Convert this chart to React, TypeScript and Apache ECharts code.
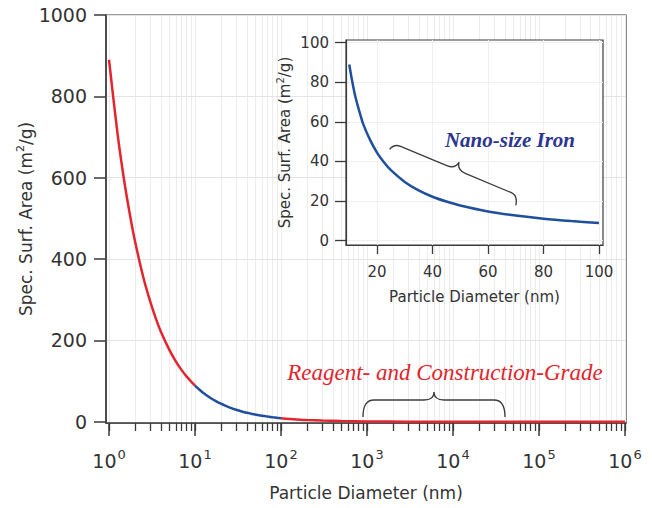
import React, { useEffect, useRef } from "react";
import * as echarts from "echarts";

// Particle diameter (nm) and specific surface area (m^2/g)
const diameterNm = [
  1, 1.25, 1.5, 1.75, 2, 2.5, 3, 3.5, 4, 5, 6, 7, 8, 9, 10, 11, 12, 13, 14, 15,
  17.5, 20, 22.5, 25, 30, 35, 40, 45, 50, 60, 70, 80, 90, 100, 150, 200, 300,
  500, 1000, 3000, 10000, 100000, 1000000,
];
const surfaceArea = [
  890, 712, 593, 509, 445, 356, 297, 254, 222, 178, 148, 127, 111, 99, 89, 81,
  74, 68.5, 63.6, 59, 50.9, 44.5, 39.6, 35.6, 29.7, 25.4, 22.2, 19.8, 17.8,
  14.8, 12.7, 11.1, 9.9, 8.9, 5.9, 4.5, 3.0, 1.8, 0.9, 0.3, 0.09, 0.01, 0.001,
];

// Tick labels
const mainXDecades = [0, 1, 2, 3, 4, 5, 6];
const mainYTicks = [0, 200, 400, 600, 800, 1000];
const insetXTicks = [20, 40, 60, 80, 100];
const insetYTicks = [0, 20, 40, 60, 80, 100];

// Annotations
const reagentLabel = "Reagent- and Construction-Grade";
const nanoLabel = "Nano-size Iron";

const RED = "#e3262d";
const BLUE = "#1f4f9e";
const AXIS = "#3a3a3a";
const TXT = "#333333";
const SANS = "'DejaVu Sans', Verdana, sans-serif";
const SERIF = "'Liberation Serif', 'Times New Roman', serif";

let shapesRegistered = false;
function registerShapes() {
  if (shapesRegistered) return;
  shapesRegistered = true;
  echarts.graphic.registerShape(
    "braceMain",
    echarts.graphic.extendPath(
      "M-71 17 Q-71 0 -60 0 L-10 0 Q0 0 0 -8 Q0 0 10 0 L60 0 Q71 0 71 17",
      {}
    )
  );
  echarts.graphic.registerShape(
    "braceInset",
    echarts.graphic.extendPath(
      "M-69 7 Q-67 0 -60 0 L-10 0 Q-1 0 0 -8 Q1 0 10 0 L60 0 Q67 0 69 10",
      {}
    )
  );
}

export default function App() {
  const ref = useRef<HTMLDivElement | null>(null);

  useEffect(() => {
    if (!ref.current) return;
    registerShapes();
    const chart = echarts.init(ref.current, undefined, { renderer: "svg" });

    const pts = diameterNm.map((d, i) => ({ d, v: surfaceArea[i] }));
    const toLog = (p: { d: number; v: number }) => [Math.log10(p.d), p.v];
    const red1 = pts.filter((p) => p.d <= 10).map(toLog);
    const blue = pts.filter((p) => p.d >= 10 && p.d <= 100).map(toLog);
    const red2 = pts.filter((p) => p.d >= 100).map(toLog);
    const inset = pts
      .filter((p) => p.d >= 10 && p.d <= 100)
      .map((p) => [p.d, p.v]);

    const minorLogs: number[] = [];
    for (let e = 0; e < 6; e++) {
      for (let k = 1; k <= 9; k++) minorLogs.push(Math.log10(k * Math.pow(10, e)));
    }
    minorLogs.push(6);

    const supRich = {
      b: { fontSize: 19, fontFamily: SANS, color: TXT },
      s: { fontSize: 13, fontFamily: SANS, color: TXT, padding: [0, 0, 12, 1] },
    };
    const plain = (v: number) => String(Math.round(v));

    const lineSeries = (data: number[][], color: string, xi: number, yi: number, z: number) => ({
      type: "line",
      xAxisIndex: xi,
      yAxisIndex: yi,
      data,
      showSymbol: false,
      smooth: 0.3,
      lineStyle: { color, width: 2.5 },
      itemStyle: { color },
      z,
    });

    const option: any = {
      animation: false,
      grid: [
        {
          left: 106,
          right: 26,
          top: 15,
          bottom: 85,
          outerBoundsMode: "none",
          containLabel: false,
          show: true,
          borderColor: AXIS,
          borderWidth: 1.2,
          backgroundColor: "transparent",
          z: 0,
        },
        {
          left: 346,
          right: 49,
          top: 40,
          bottom: 263,
          outerBoundsMode: "none",
          containLabel: false,
          show: true,
          borderColor: AXIS,
          borderWidth: 1.2,
          backgroundColor: "#ffffff",
          z: 5,
        },
      ],
      xAxis: [
        {
          type: "value",
          gridIndex: 0,
          position: "bottom",
          min: -0.035,
          max: 6.012,
          z: 2,
          axisLine: { show: true, onZero: false, lineStyle: { color: AXIS, width: 1.5 } },
          axisTick: {
            show: true,
            customValues: mainXDecades,
            length: 13,
            lineStyle: { color: AXIS, width: 1.5 },
          },
          axisLabel: {
            customValues: mainXDecades,
            margin: 25,
            formatter: (v: number) => `{b|10}{s|${Math.round(v)}}`,
            rich: supRich,
          },
          splitLine: { show: false },
          name: "Particle Diameter (nm)",
          nameLocation: "middle",
          nameGap: 61,
          nameMoveOverlap: false,
          nameTextStyle: { fontSize: 17, fontFamily: SANS, color: TXT },
        },
        {
          type: "value",
          gridIndex: 0,
          position: "bottom",
          min: -0.035,
          max: 6.012,
          z: 1,
          axisLine: { show: false, onZero: false },
          axisTick: {
            show: true,
            customValues: minorLogs,
            length: 8,
            lineStyle: { color: AXIS, width: 1.3 },
          },
          axisLabel: { show: false },
          splitLine: { show: true, lineStyle: { color: "#ececec", width: 1 } },
        },
        {
          type: "value",
          gridIndex: 1,
          position: "bottom",
          min: 8.83,
          max: 101.44,
          z: 6,
          axisLine: { show: true, onZero: false, lineStyle: { color: AXIS, width: 1.2 } },
          axisTick: {
            show: true,
            customValues: insetXTicks,
            length: 9,
            lineStyle: { color: AXIS, width: 1.3 },
          },
          axisLabel: {
            customValues: insetXTicks,
            margin: 19,
            fontSize: 15,
            fontFamily: SANS,
            color: TXT,
            formatter: plain,
          },
          splitLine: { show: true, lineStyle: { color: "#efefef" } },
          name: "Particle Diameter (nm)",
          nameLocation: "middle",
          nameGap: 44,
          nameMoveOverlap: false,
          nameTextStyle: { fontSize: 15, fontFamily: SANS, color: TXT },
        },
      ],
      yAxis: [
        {
          type: "value",
          gridIndex: 0,
          min: -3,
          max: 1000,
          z: 2,
          axisLine: { show: true, onZero: false, lineStyle: { color: AXIS, width: 1.5 } },
          axisTick: {
            show: true,
            customValues: mainYTicks,
            length: 12,
            lineStyle: { color: AXIS, width: 1.5 },
          },
          axisLabel: {
            customValues: mainYTicks,
            margin: 19,
            fontSize: 19,
            fontFamily: SANS,
            color: TXT,
            formatter: plain,
          },
          splitLine: { show: true, lineStyle: { color: "#e4e4e4" } },
          name: "Spec. Surf. Area (m{sup|2}/g)",
          nameLocation: "middle",
          nameGap: 70,
          nameMoveOverlap: false,
          nameTextStyle: {
            fontSize: 17,
            fontFamily: SANS,
            color: TXT,
            rich: {
              sup: { fontSize: 11, fontFamily: SANS, color: TXT, padding: [0, 0, 10, 0] },
            },
          },
        },
        {
          type: "value",
          gridIndex: 1,
          min: -2.17,
          max: 101.36,
          z: 6,
          axisLine: { show: true, onZero: false, lineStyle: { color: AXIS, width: 1.2 } },
          axisTick: {
            show: true,
            customValues: insetYTicks,
            length: 11,
            lineStyle: { color: AXIS, width: 1.3 },
          },
          axisLabel: {
            customValues: insetYTicks,
            margin: 17,
            fontSize: 15,
            fontFamily: SANS,
            color: TXT,
            formatter: plain,
          },
          splitLine: { show: true, lineStyle: { color: "#efefef" } },
          name: "Spec. Surf. Area (m{sup|2}/g)",
          nameLocation: "middle",
          nameGap: 52,
          nameMoveOverlap: false,
          nameTextStyle: {
            fontSize: 15,
            fontFamily: SANS,
            color: TXT,
            rich: {
              sup: { fontSize: 10, fontFamily: SANS, color: TXT, padding: [0, 0, 9, 0] },
            },
          },
        },
      ],
      series: [
        lineSeries(red1, RED, 0, 0, 3),
        lineSeries(blue, BLUE, 0, 0, 3),
        lineSeries(red2, RED, 0, 0, 3),
        lineSeries(inset, BLUE, 2, 1, 7),
      ],
      graphic: [
        {
          type: "rect",
          z: 1,
          silent: true,
          shape: { x: 255, y: 24, width: 362, height: 289 },
          style: { fill: "#ffffff" },
        },
        {
          type: "text",
          z: 10,
          x: 445,
          y: 372,
          style: {
            text: reagentLabel,
            font: `italic 23px ${SERIF}`,
            fill: "#e2242b",
            align: "center",
            verticalAlign: "middle",
          },
        },
        {
          type: "braceMain",
          z: 10,
          x: 434,
          y: 400,
          style: { stroke: "#3c3c3c", fill: "none", lineWidth: 1.3 },
        },
        {
          type: "text",
          z: 10,
          x: 510,
          y: 140,
          style: {
            text: nanoLabel,
            font: `italic bold 21px ${SERIF}`,
            fill: "#2c3590",
            align: "center",
            verticalAlign: "middle",
          },
        },
        {
          type: "braceInset",
          z: 10,
          x: 456,
          y: 169.5,
          rotation: -0.396,
          style: { stroke: "#3c3c3c", fill: "none", lineWidth: 1.3 },
        },
      ],
    };

    chart.setOption(option);
    return () => {
      chart.dispose();
    };
  }, []);

  return (
    <div
      ref={ref}
      style={{ position: "absolute", left: 0, top: 0, width: 652, height: 508 }}
    />
  );
}
